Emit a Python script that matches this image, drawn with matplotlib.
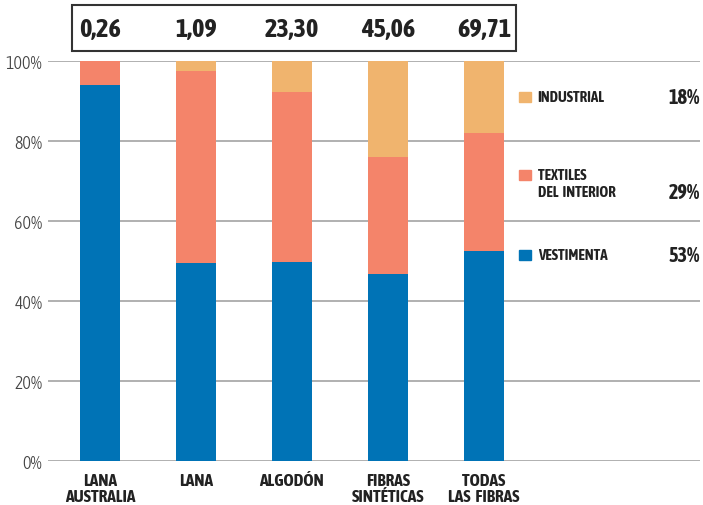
import numpy as np
import matplotlib.pyplot as plt
from matplotlib.patches import Rectangle

plt.rcParams['font.family'] = ['Asap Condensed', 'DejaVu Sans']

categories = ['LANA\nAUSTRALIA', 'LANA', 'ALGODÓN', 'FIBRAS\nSINTÉTICAS', 'TODAS\nLAS  FIBRAS']
totals = ['0,26', '1,09', '23,30', '45,06', '69,71']
vestimenta = [94.0, 49.5, 49.7, 46.7, 52.5]
textiles = [6.0, 48.0, 42.5, 29.3, 29.5]
industrial = [0.0, 2.5, 7.8, 24.0, 18.0]

legend_labels = ['INDUSTRIAL', 'TEXTILES', 'VESTIMENTA']
legend_pcts = ['18%', '29%', '53%']
legend_y = [91, 71.5, 51.5]

c_blue = '#0073b6'
c_red = '#f4846a'
c_tan = '#f0b46e'
colors = [c_tan, c_red, c_blue]
dark = '#222222'

fig = plt.figure(figsize=(7.03, 5.06), dpi=100)
ax = fig.add_axes([48 / 703, 1 - 462 / 506, 652 / 703, 400 / 506])

x = np.arange(len(categories))
w = 0.42
v = np.array(vestimenta)
t = np.array(textiles)
i = np.array(industrial)
ax.bar(x, v, w, color=c_blue, zorder=3)
ax.bar(x, t, w, bottom=v, color=c_red, zorder=3)
ax.bar(x, i, w, bottom=v + t, color=c_tan, zorder=3)

ax.set_xlim(-0.54, 6.25)
ax.set_ylim(0, 100)
ax.set_yticks([0, 20, 40, 60, 80, 100])
ax.set_yticklabels(['0%', '20%', '40%', '60%', '80%', '100%'], fontsize=13,
                   color='#444444', fontweight=300)
ax.yaxis.grid(True, color='#aaaaaa', linewidth=1.3, zorder=0)
ax.tick_params(axis='y', length=0, pad=4)
ax.set_xticks(x)
ax.set_xticklabels(categories, fontsize=12.5, fontweight='bold', color=dark, linespacing=1.0)
ax.tick_params(axis='x', length=0, pad=8)
for s in ax.spines.values():
    s.set_visible(False)

# legend on the right
for lab, pct, yy, col in zip(legend_labels, legend_pcts, legend_y, colors):
    ax.add_patch(Rectangle((4.36, yy - 1.3), 0.13, 2.6, color=col, zorder=3, clip_on=False))
    ax.text(4.56, yy, lab, fontsize=10.8, fontweight='bold', color=dark, va='center', ha='left')
    py = yy - 4.3 if lab == 'TEXTILES' else yy
    ax.text(6.25, py, pct, fontsize=14.5, fontweight='bold', color=dark, va='center', ha='right')
ax.text(4.56, legend_y[1] - 4.3, 'DEL  INTERIOR', fontsize=10.8, fontweight='bold',
        color=dark, va='center', ha='left')

# box with totals
fig.add_artist(Rectangle((72 / 703, 1 - 52 / 506), 444 / 703, 46 / 506, fill=False,
                         edgecolor='#333333', linewidth=1.5, transform=fig.transFigure))
for xi, tot in zip(x, totals):
    ax.text(xi, 108.2, tot, fontsize=19, fontweight='bold', color=dark,
            ha='center', va='center', clip_on=False)

fig.savefig('out.png', dpi=100)
